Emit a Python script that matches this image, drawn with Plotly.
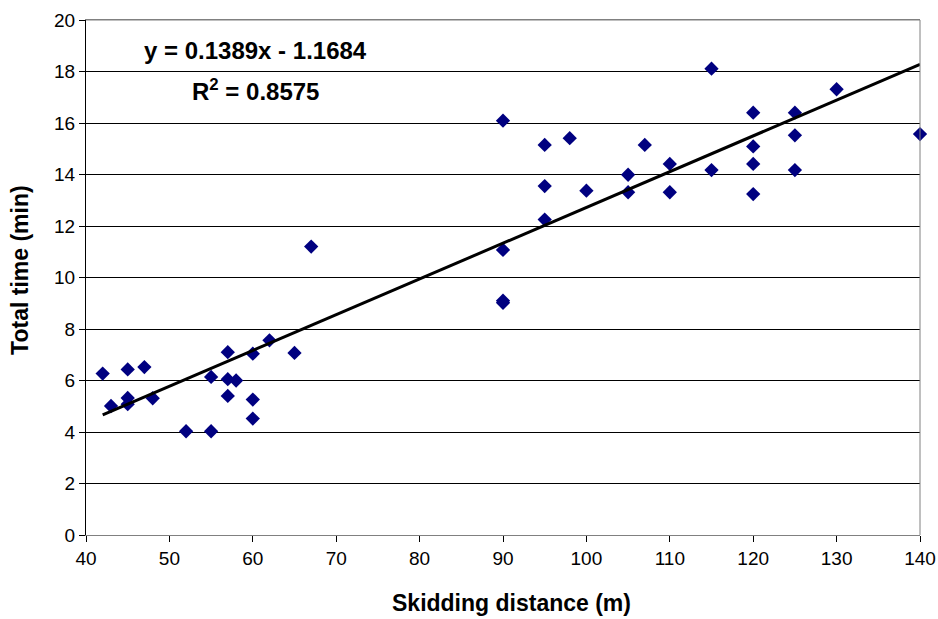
import plotly.graph_objects as go

# Data
distance = [42, 43, 45, 45, 45, 47, 48, 52, 55, 55, 57, 57, 57, 58, 60, 60, 60, 62, 65, 67,
            90, 90, 90, 90, 95, 95, 95, 98, 100, 105, 105, 107, 110, 110, 115, 115,
            120, 120, 120, 120, 125, 125, 125, 130, 140]
total_time = [6.27, 5.01, 6.43, 5.32, 5.08, 6.52, 5.31, 4.03, 6.14, 4.03, 7.10, 6.05, 5.40, 6.00,
              7.04, 5.26, 4.52, 7.56, 7.07, 11.20,
              16.09, 11.07, 9.10, 9.02, 15.15, 13.55, 12.25, 15.41, 13.37, 13.99, 13.31, 15.15,
              14.41, 13.31, 14.17, 18.11,
              16.40, 15.09, 14.41, 13.24, 16.40, 15.52, 14.17, 17.31, 15.57]

slope = 0.1389
intercept = -1.1684
r_squared = 0.8575

x_ticks = [40, 50, 60, 70, 80, 90, 100, 110, 120, 130, 140]
y_ticks = [0, 2, 4, 6, 8, 10, 12, 14, 16, 18, 20]

x_title = "Skidding distance (m)"
y_title = "Total time (min)"

FONT = "Liberation Sans, Arial, sans-serif"

trend_x = [min(distance), max(distance)]
trend_y = [slope * v + intercept for v in trend_x]

fig = go.Figure()
fig.add_trace(go.Scatter(
    x=distance, y=total_time, mode="markers",
    marker=dict(symbol="diamond", size=11, color="#000080", line=dict(width=0)),
    cliponaxis=False, showlegend=False,
))
fig.add_trace(go.Scatter(
    x=trend_x, y=trend_y, mode="lines",
    line=dict(color="black", width=3), showlegend=False,
))

fig.update_layout(
    width=938, height=619,
    margin=dict(l=86, r=18, t=20, b=84),
    paper_bgcolor="white", plot_bgcolor="white",
    font=dict(family=FONT, color="black"),
    xaxis=dict(
        range=[40, 140], tickvals=x_ticks, ticktext=[str(v) for v in x_ticks],
        showgrid=False, zeroline=False, automargin=False,
        showline=True, linecolor="#808080", linewidth=1, mirror=True,
        ticks="outside", ticklen=6, tickcolor="black",
        tickfont=dict(size=19, family=FONT),
    ),
    yaxis=dict(
        range=[0, 20], tickvals=y_ticks, ticktext=[str(v) for v in y_ticks],
        showgrid=True, gridcolor="black", gridwidth=1, zeroline=False, automargin=False,
        showline=True, linecolor="black", linewidth=1,
        ticks="outside", ticklen=6, tickcolor="black",
        tickfont=dict(size=19, family=FONT),
    ),
    shapes=[
        dict(type="line", xref="paper", yref="paper", x0=1, x1=1, y0=0, y1=1,
             line=dict(color="#808080", width=1)),
        dict(type="line", xref="paper", yref="paper", x0=0, x1=1, y0=1, y1=1,
             line=dict(color="#808080", width=1)),
    ],
    annotations=[
        dict(xref="x", yref="y", x=60.3, y=18.8,
             text=f"<b>y = {slope}x - {abs(intercept)}</b>",
             showarrow=False, font=dict(size=24, family=FONT), xanchor="center", yanchor="middle"),
        dict(xref="x", yref="y", x=60.3, y=17.3,
             text=f"<b>R<sup>2</sup> = {r_squared}</b>",
             showarrow=False, font=dict(size=24, family=FONT), xanchor="center", yanchor="middle"),
        dict(xref="paper", yref="paper", x=0.51, y=-0.132,
             text=f"<b>{x_title}</b>", showarrow=False,
             font=dict(size=23, family=FONT), xanchor="center", yanchor="middle"),
        dict(xref="paper", yref="paper", x=-0.079, y=0.515,
             text=f"<b>{y_title}</b>", showarrow=False, textangle=-90,
             font=dict(size=23, family=FONT), xanchor="center", yanchor="middle"),
    ],
)

fig.write_html("out.html")
